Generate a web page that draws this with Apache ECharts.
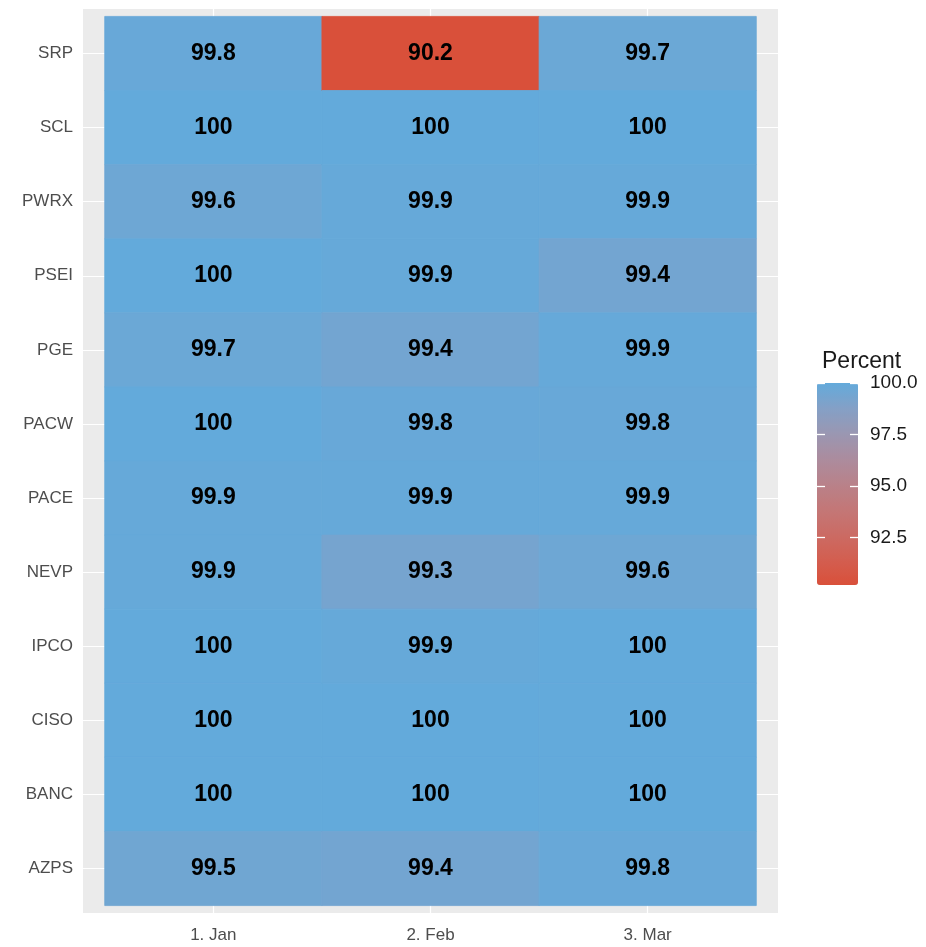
<!DOCTYPE html>
<html>
<head>
<meta charset="utf-8">
<script src="https://cdn.jsdelivr.net/npm/echarts@6/dist/echarts.min.js"></script>
<style>html,body{margin:0;padding:0;background:#fff}#c{width:926px;height:947px}</style>
</head>
<body>
<div id="c"></div>
<script>
// Rows listed top to bottom
const rows = ['SRP','SCL','PWRX','PSEI','PGE','PACW','PACE','NEVP','IPCO','CISO','BANC','AZPS'];
const months = ['1. Jan','2. Feb','3. Mar'];
const janValues = [99.8, 100, 99.6, 100, 99.7, 100, 99.9, 99.9, 100, 100, 100, 99.5];
const febValues = [90.2, 100, 99.9, 99.9, 99.4, 99.8, 99.9, 99.3, 99.9, 100, 100, 99.4];
const marValues = [99.7, 100, 99.9, 99.4, 99.9, 99.8, 99.9, 99.6, 100, 100, 100, 99.8];
const legendTicks = [92.5, 95, 97.5, 100];
const scaleMin = 90.2, scaleMax = 100;

const cols = [janValues, febValues, marValues];
const data = [];
cols.forEach((arr, ci) => arr.forEach((v, ri) => data.push([ci, ri, v])));

const FONT = 'Liberation Sans';
const fmt = v => Number.isInteger(v) ? String(v) : v.toFixed(1);

const legendTickAxis = (offset) => ({
  type: 'value', gridIndex: 1, min: scaleMin, max: scaleMax, position: 'left', offset: offset, z: 10,
  axisLine: {show: false},
  axisTick: {show: true, inside: true, length: 8, lineStyle: {color: '#ffffff', width: 1.3}, customValues: legendTicks},
  axisLabel: {show: false},
  splitLine: {show: false}
});

const chart = echarts.init(document.getElementById('c'), null, {renderer: 'canvas'});
chart.setOption({
  backgroundColor: '#ffffff',
  animation: false,
  title: [{
    text: 'Percent', left: 817, top: 345,
    textStyle: {fontFamily: FONT, fontSize: 23, fontWeight: 'normal', color: '#1a1a1a'}
  }],
  grid: [
    {left: 83, right: 148, top: 9, bottom: 34, show: true, backgroundColor: '#EBEBEB', borderWidth: 0},
    {left: 817, top: 383, width: 41, height: 202, show: false}
  ],
  xAxis: [
    {
      type: 'value', gridIndex: 0, min: -0.6, max: 2.6,
      axisLine: {show: false},
      axisTick: {show: true, length: 5, lineStyle: {color: '#333333'}, customValues: [0, 1, 2]},
      axisLabel: {customValues: [0, 1, 2], formatter: v => months[Math.round(v)] || '',
        fontFamily: FONT, fontSize: 17, color: '#4D4D4D', margin: 14},
      splitLine: {show: true, lineStyle: {color: '#ffffff', width: 1.2}},
    },
    {type: 'value', gridIndex: 1, show: false, min: 0, max: 1}
  ],
  yAxis: [
    {
      type: 'value', gridIndex: 0, min: -0.6, max: 11.6, inverse: true,
      axisLine: {show: false},
      axisTick: {show: true, length: 5, lineStyle: {color: '#333333'}, customValues: rows.map((r, i) => i)},
      axisLabel: {customValues: rows.map((r, i) => i), formatter: v => rows[Math.round(v)] || '',
        fontFamily: FONT, fontSize: 17, color: '#4D4D4D', margin: 10},
      splitLine: {show: true, lineStyle: {color: '#ffffff', width: 1.2}},
    },
    {
      type: 'value', gridIndex: 1, min: scaleMin, max: scaleMax, position: 'right', z: 10,
      axisLine: {show: false},
      axisTick: {show: false},
      axisLabel: {customValues: legendTicks, formatter: v => v.toFixed(1),
        fontFamily: FONT, fontSize: 19, color: '#1a1a1a', margin: 12},
      splitLine: {show: false}
    },
    legendTickAxis(0),
    legendTickAxis(-33)
  ],
  visualMap: {
    type: 'continuous', min: scaleMin, max: scaleMax, seriesIndex: 0, dimension: 2,
    left: 817, top: 383, itemWidth: 41, itemHeight: 202, padding: 0,
    calculable: false, text: null, showLabel: false,
    inRange: {color: ['#D9503A', '#D35E50', '#CB6B64', '#C37777', '#B8828A', '#AB8C9E', '#9A97B2', '#84A0C6', '#63AADB']}
  },
  series: [{
    type: 'custom', xAxisIndex: 0, yAxisIndex: 0, data: data,
    encode: {x: 0, y: 1},
    renderItem: function (params, api) {
      const x = api.value(0), y = api.value(1), v = api.value(2);
      const p0 = api.coord([x - 0.5, y - 0.5]);
      const p1 = api.coord([x + 0.5, y + 0.5]);
      const rx = Math.min(p0[0], p1[0]), ry = Math.min(p0[1], p1[1]);
      const w = Math.abs(p1[0] - p0[0]), h = Math.abs(p1[1] - p0[1]);
      const c = api.coord([x, y]);
      const col = api.visual('color');
      return {
        type: 'group',
        children: [
          {type: 'rect', shape: {x: rx, y: ry, width: w, height: h}, style: {fill: col, stroke: col, lineWidth: 0.8}},
          {type: 'text', z2: 10, style: {text: fmt(v), x: c[0], y: c[1], align: 'center', verticalAlign: 'middle',
            font: 'bold 23px "' + FONT + '"', fill: '#000000'}}
        ]
      };
    }
  }]
});
</script>
</body>
</html>
